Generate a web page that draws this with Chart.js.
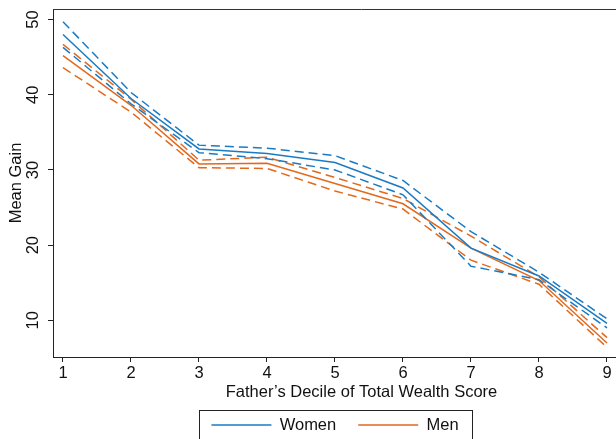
<!DOCTYPE html>
<html>
<head>
<meta charset="utf-8">
<script src="https://cdn.jsdelivr.net/npm/chart.js@4.4.0/dist/chart.umd.min.js"></script>
<style>
  html, body { margin: 0; padding: 0; background: #fff; overflow: hidden; }
  #wrap { width: 616px; height: 439px; overflow: hidden; position: relative; }
  canvas { display: block; }
</style>
</head>
<body>
<div id="wrap"><canvas id="chart" width="670" height="460"></canvas></div>
<script>
// father's wealth decile
const deciles = [1, 2, 3, 4, 5, 6, 7, 8, 9];
const yTicks = [10, 20, 30, 40, 50];

// mean gain with upper / lower confidence bounds
const womenMean  = [48.0, 39.5, 32.8, 32.2, 31.0, 27.6, 19.6, 15.9, 9.6];
const womenUpper = [49.7, 40.3, 33.3, 32.9, 31.9, 28.6, 21.8, 16.4, 10.2];
const womenLower = [46.3, 38.8, 32.3, 31.5, 30.0, 26.7, 17.2, 15.4, 9.0];
const menMean    = [45.2, 38.6, 30.8, 30.9, 28.2, 25.5, 19.6, 15.3, 7.0];
const menUpper   = [46.7, 39.4, 31.3, 31.7, 29.0, 26.2, 21.2, 15.8, 7.7];
const menLower   = [43.6, 37.7, 30.3, 30.2, 27.2, 24.8, 18.0, 14.8, 6.4];

const blue = "#1a7bc4";
const orange = "#e2691c";
const font = "'Liberation Sans', Arial, Helvetica, sans-serif";
const fs = 16.5;
const canvasW = 670;

function pts(vals) {
  return deciles.map((d, i) => ({ x: d, y: vals[i] }));
}

function line(label, vals, color, dashed) {
  return {
    label: label,
    data: pts(vals),
    borderColor: color,
    backgroundColor: color,
    borderWidth: 1.5,
    borderDash: dashed ? [9, 5] : [],
    pointRadius: 0,
    tension: 0,
    fill: false
  };
}

// outline of the plot region, box round the legend
const frame = {
  id: "frame",
  afterDraw(chart) {
    const a = chart.chartArea;
    const ctx = chart.ctx;
    ctx.save();
    ctx.strokeStyle = "#333";
    ctx.lineWidth = 1;
    ctx.beginPath();
    ctx.moveTo(a.left, a.top + 0.5);
    ctx.lineTo(a.right, a.top + 0.5);
    ctx.stroke();
    const lg = chart.legend;
    if (lg && lg.legendHitBoxes.length) {
      const hb = lg.legendHitBoxes;
      const x0 = hb[0].left - 12;
      const x1 = hb[hb.length - 1].left + hb[hb.length - 1].width + 14;
      ctx.strokeStyle = "#222";
      ctx.strokeRect(Math.round(x0) + 0.5, Math.round(hb[0].top - 7) + 0.5, Math.round(x1 - x0), 60);
    }
    ctx.restore();
  }
};

new Chart(document.getElementById("chart"), {
  type: "line",
  data: {
    datasets: [
      line("Women", womenMean, blue, false),
      line("Women upper", womenUpper, blue, true),
      line("Women lower", womenLower, blue, true),
      line("Men", menMean, orange, false),
      line("Men upper", menUpper, orange, true),
      line("Men lower", menLower, orange, true)
    ]
  },
  options: {
    responsive: false,
    animation: false,
    devicePixelRatio: 1,
    layout: { padding: { left: 0, right: 0, top: 9, bottom: 16.75 } },
    plugins: {
      tooltip: { enabled: false },
      legend: {
        position: "bottom",
        labels: {
          filter: item => item.text === "Women" || item.text === "Men",
          usePointStyle: true,
          pointStyle: "line",
          pointStyleWidth: 60,
          padding: 22,
          color: "#111",
          font: { family: font, size: fs }
        }
      }
    },
    scales: {
      x: {
        type: "linear",
        min: 0.853,
        max: 1 + (canvasW - 63) / 68,
        afterFit: s => { s.height = 37.75; },
        afterBuildTicks: s => { s.ticks = deciles.map(v => ({ value: v })); },
        grid: { drawOnChartArea: false, drawTicks: true, tickLength: 5, tickColor: "#222" },
        border: { color: "#222", width: 1 },
        ticks: { color: "#111", padding: 2, maxRotation: 0, font: { family: font, size: fs } },
        title: {
          display: true,
          text: "Father’s Decile of Total Wealth Score",
          color: "#111",
          padding: { top: -8, bottom: -8 },
          font: { family: font, size: fs }
        }
      },
      y: {
        min: 5.13,
        max: 51.4,
        afterFit: s => { s.width = 53; s.paddingTop = 0; s.paddingBottom = 0; },
        afterBuildTicks: s => { s.ticks = yTicks.map(v => ({ value: v })); },
        grid: { drawOnChartArea: false, drawTicks: true, tickLength: 5, tickColor: "#222" },
        border: { color: "#222", width: 1 },
        ticks: {
          color: "#111",
          padding: 5,
          minRotation: 90,
          maxRotation: 90,
          crossAlign: "center",
          font: { family: font, size: fs }
        },
        title: {
          display: true,
          text: "Mean Gain",
          color: "#111",
          padding: { top: 7, bottom: 7 },
          font: { family: font, size: fs }
        }
      }
    }
  },
  plugins: [frame]
});
</script>
</body>
</html>
